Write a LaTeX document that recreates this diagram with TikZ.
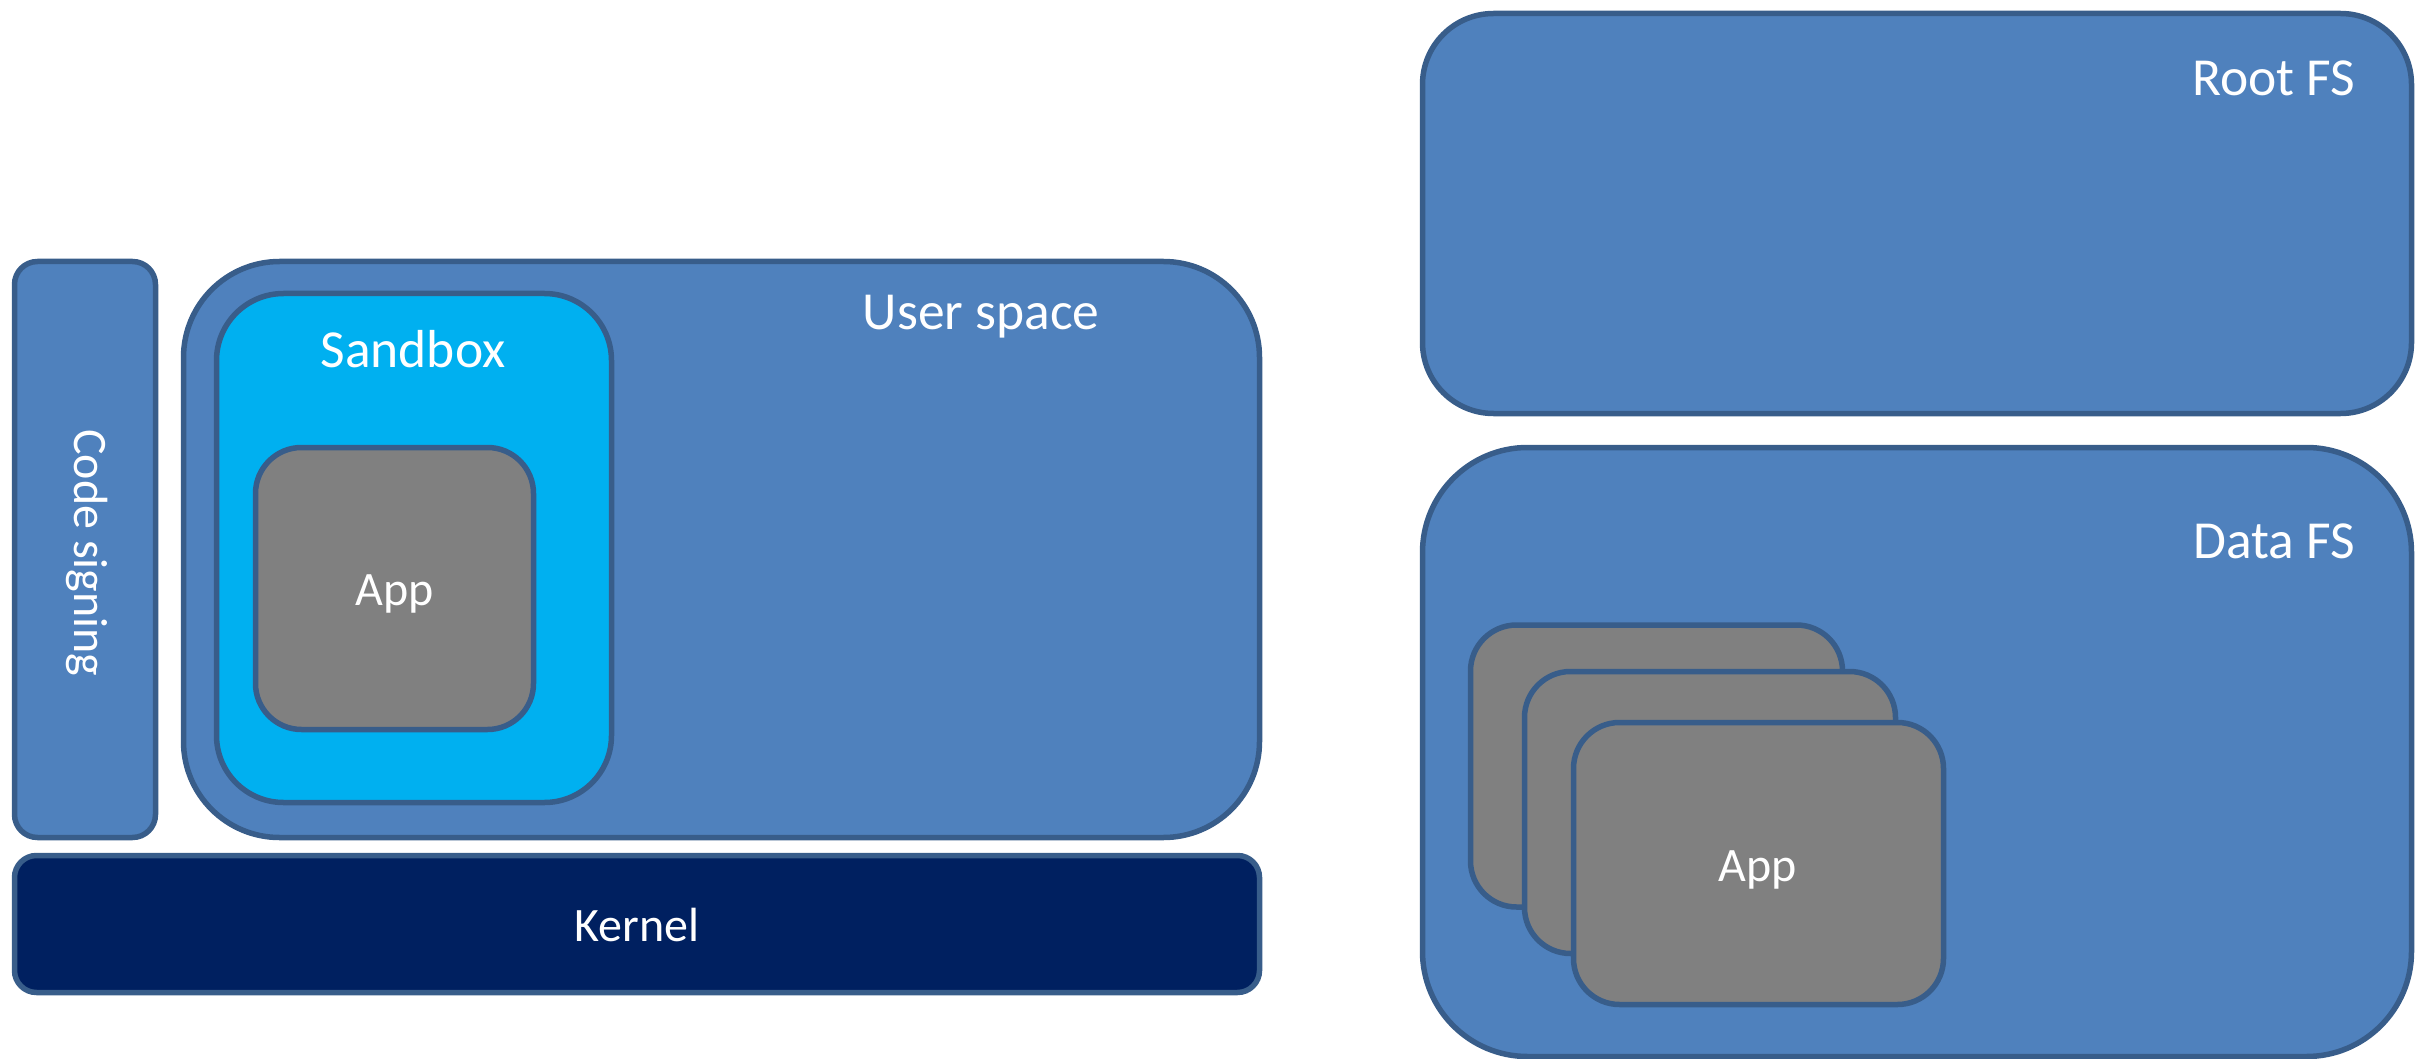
\documentclass[tikz,border=0pt]{standalone}
\usepackage{fontspec}
\setmainfont{Carlito}
\definecolor{boxblue}{HTML}{4F81BD}
\definecolor{edgeblue}{HTML}{385D8A}
\definecolor{sandcyan}{HTML}{00B0F0}
\definecolor{appgray}{HTML}{808080}
\definecolor{kernelnavy}{HTML}{002060}
\begin{document}
\begin{tikzpicture}[x=1pt,y=-1pt,
  panel/.style={draw=edgeblue, line width=5.5pt, fill=boxblue, inner sep=0pt},
  sandpanel/.style={panel, fill=sandcyan},
  apppanel/.style={panel, fill=appgray, minimum width=280pt, minimum height=282pt, rounded corners=46pt},
  kernelpanel/.style={panel, fill=kernelnavy},
  caption/.style={text=white, font=\fontsize{53.5}{64}\selectfont, inner sep=0pt},
  smallcaption/.style={caption, font=\fontsize{48}{58}\selectfont}]
  \useasboundingbox (0,0) rectangle (2431,1059);

  % left stack: code signing, user space, kernel
  \node[panel, minimum width=141pt, minimum height=576pt, rounded corners=23pt] (codesign) at (85,549.5) {};
  \node[panel, minimum width=1076pt, minimum height=576pt, rounded corners=96pt] (userspace) at (721.5,549.5) {};
  \node[sandpanel, minimum width=395pt, minimum height=509pt, rounded corners=67pt] (sandbox) at (414,548) {};
  \node[apppanel, minimum width=278pt] (app) at (394.5,588.5) {};
  \node[kernelpanel, minimum width=1245pt, minimum height=137pt, rounded corners=22pt] (kernel) at (637,924) {};

  \node[smallcaption, rotate=-90] (codesignlbl) at (87,553) {Code signing};
  \node[caption, anchor=base] (userspacelbl) at (981,330) {User space};
  \node[caption, anchor=base] (sandboxlbl) at (413,367) {Sandbox};
  \node[smallcaption, anchor=base] (applbl) at (395,605) {App};
  \node[smallcaption, anchor=base] (kernellbl) at (637,941) {Kernel};

  % right stack: file systems
  \node[panel, minimum width=989pt, minimum height=400pt, rounded corners=71pt] (rootfs) at (1917,213.5) {};
  \node[panel, minimum width=989pt, minimum height=609pt, rounded corners=105pt] (datafs) at (1917,752) {};
  \node[apppanel, minimum width=372pt] (appa) at (1656.5,766) {};
  \node[apppanel, minimum width=371pt] (appb) at (1710,812.5) {};
  \node[apppanel, minimum width=370pt] (appc) at (1758.5,863.5) {};

  \node[caption, anchor=base east] (rootfslbl) at (2355,96) {Root FS};
  \node[caption, anchor=base east] (datafslbl) at (2355,558) {Data FS};
  \node[smallcaption, anchor=base] (appclbl) at (1758,881) {App};
\end{tikzpicture}
\end{document}
